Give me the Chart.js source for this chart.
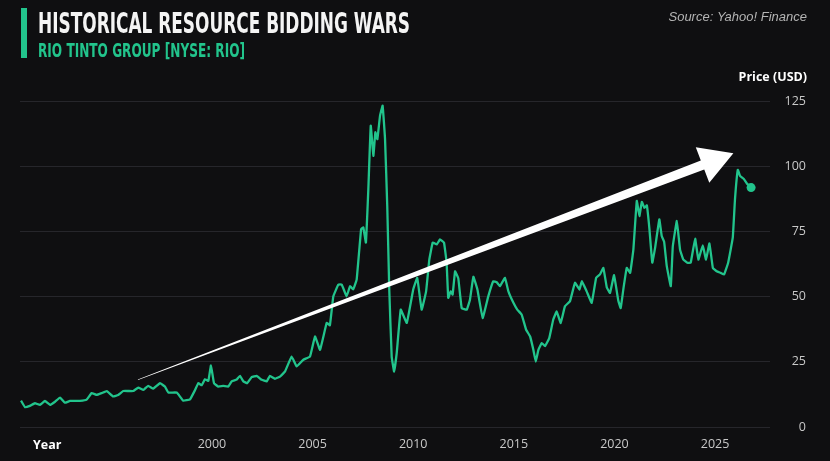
<!DOCTYPE html>
<html>
<head>
<meta charset="utf-8">
<script src="https://cdn.jsdelivr.net/npm/chart.js@4.4.1/dist/chart.umd.min.js"></script>
<style>
  html, body { margin: 0; padding: 0; background: #0f0f11; overflow: hidden; }
  #wrap { width: 830px; height: 461px; position: relative; }
</style>
</head>
<body>
<div id="wrap"><canvas id="rio_chart" width="830" height="461"></canvas></div>
<script>
// RIO monthly-ish closes (decimal year / USD)
var years = [
  1990.51, 1990.71, 1990.95, 1991.20, 1991.45, 1991.70, 1991.95, 1992.20, 1992.45, 1992.69,
  1992.94, 1993.19, 1993.44, 1993.77, 1994.02, 1994.27, 1994.52, 1994.77, 1995.09, 1995.34,
  1995.59, 1995.84, 1996.09, 1996.34, 1996.59, 1996.83, 1997.08, 1997.42, 1997.66, 1997.83,
  1998.25, 1998.57, 1998.91, 1999.16, 1999.32, 1999.49, 1999.65, 1999.82, 1999.95, 2000.10,
  2000.31, 2000.56, 2000.81, 2000.98, 2001.23, 2001.39, 2001.56, 2001.75, 2001.97, 2002.22,
  2002.47, 2002.72, 2002.88, 2003.13, 2003.38, 2003.63, 2003.96, 2004.21, 2004.54, 2004.87,
  2005.12, 2005.37, 2005.70, 2005.86, 2006.03, 2006.28, 2006.45, 2006.69, 2006.86, 2007.02,
  2007.19, 2007.41, 2007.52, 2007.65, 2007.77, 2007.89, 2008.02, 2008.12, 2008.22, 2008.35,
  2008.48, 2008.60, 2008.71, 2008.81, 2008.93, 2009.05, 2009.18, 2009.38, 2009.68, 2010.00,
  2010.20, 2010.42, 2010.64, 2010.80, 2010.97, 2011.17, 2011.33, 2011.53, 2011.66, 2011.74,
  2011.86, 2011.96, 2012.08, 2012.24, 2012.41, 2012.66, 2012.82, 2012.99, 2013.19, 2013.45,
  2013.73, 2013.98, 2014.15, 2014.31, 2014.56, 2014.73, 2014.98, 2015.17, 2015.39, 2015.61,
  2015.81, 2015.97, 2016.09, 2016.22, 2016.39, 2016.55, 2016.76, 2016.96, 2017.13, 2017.33,
  2017.54, 2017.79, 2018.04, 2018.26, 2018.38, 2018.62, 2018.87, 2019.09, 2019.28, 2019.45,
  2019.62, 2019.78, 2019.98, 2020.19, 2020.31, 2020.44, 2020.61, 2020.78, 2020.94, 2021.11,
  2021.24, 2021.36, 2021.49, 2021.61, 2021.74, 2021.88, 2022.02, 2022.23, 2022.35, 2022.47,
  2022.60, 2022.80, 2022.90, 2023.10, 2023.26, 2023.42, 2023.62, 2023.79, 2024.01, 2024.17,
  2024.39, 2024.55, 2024.72, 2024.89, 2025.08, 2025.28, 2025.45, 2025.65, 2025.88, 2025.99,
  2026.13, 2026.24, 2026.44, 2026.57, 2026.79
];
var prices = [
  10.1, 7.6, 8.1, 9.1, 8.5, 10.0, 8.5, 9.7, 11.3, 9.3,
  10.0, 10.0, 10.0, 10.5, 13.0, 12.3, 13.0, 13.8, 11.7, 12.3,
  13.8, 13.8, 13.8, 15.1, 14.2, 15.8, 14.7, 16.8, 15.5, 13.2,
  13.2, 10.1, 10.6, 14.2, 16.8, 16.0, 18.3, 17.7, 23.6, 16.8,
  15.5, 15.8, 15.5, 17.5, 18.2, 19.6, 17.5, 16.8, 19.1, 19.6,
  18.1, 17.5, 19.6, 18.5, 19.3, 21.3, 27.0, 23.2, 25.8, 27.0,
  34.7, 29.6, 39.9, 39.0, 50.1, 54.6, 54.6, 50.1, 54.0, 52.8,
  56.5, 75.8, 76.5, 70.7, 91.2, 115.5, 104.0, 113.0, 110.4, 119.3,
  123.2, 110.4, 84.7, 52.7, 27.0, 21.3, 28.3, 45.0, 39.9, 52.7,
  57.2, 45.0, 52.0, 64.2, 70.7, 70.0, 71.9, 70.7, 63.0, 49.5,
  52.0, 50.8, 59.7, 57.0, 45.6, 45.0, 48.8, 57.6, 52.7, 41.8,
  50.1, 55.9, 55.5, 54.0, 57.2, 52.0, 47.6, 45.0, 43.1, 37.3,
  34.7, 29.6, 25.1, 29.6, 32.2, 31.0, 34.1, 41.2, 44.3, 39.9,
  46.3, 48.2, 55.3, 52.7, 55.9, 52.0, 47.6, 57.2, 58.5, 61.0,
  53.5, 51.4, 58.2, 48.5, 45.6, 52.7, 61.0, 59.1, 68.0, 86.7,
  80.9, 86.3, 84.0, 85.0, 75.8, 63.0, 68.7, 79.6, 73.2, 71.0,
  61.7, 54.0, 69.3, 79.0, 68.0, 64.2, 63.0, 63.0, 72.2, 64.2,
  69.6, 64.2, 70.4, 61.0, 59.7, 59.1, 58.5, 63.0, 72.6, 87.3,
  98.6, 96.3, 95.0, 93.5, 91.8
];
var xTicks = [2000, 2005, 2010, 2015, 2020, 2025];
var yTicks = [0, 25, 50, 75, 100, 125];

// the big "trend" arrow, in data units
var arrowFrom = { year: 1996.32, price: 18.1 };
var arrowTo = { year: 2025.91, price: 105.0 };

var GREEN = '#22c48c';
var BG = '#0f0f11';

var series = years.map(function (y, i) { return { x: y, y: prices[i] }; });
var lastIdx = series.length - 1;

const decorPlugin = {
    id: 'decor',
    beforeDraw: function (chart) {
        var ctx = chart.ctx;
        ctx.save();
        ctx.fillStyle = BG;
        ctx.fillRect(0, 0, chart.width, chart.height);
        ctx.restore();
    },
    afterDatasetsDraw: function (chart) {
        var ctx = chart.ctx;
        var xs = chart.scales.x, ys = chart.scales.y;
        var x0 = xs.getPixelForValue(arrowFrom.year), y0 = ys.getPixelForValue(arrowFrom.price);
        var x1 = xs.getPixelForValue(arrowTo.year), y1 = ys.getPixelForValue(arrowTo.price);
        var dx = x1 - x0, dy = y1 - y0;
        var len = Math.sqrt(dx * dx + dy * dy);
        var ux = dx / len, uy = dy / len;
        var nx = -uy, ny = ux;
        var headLen = 33, headHalf = 19, tailHalf = 0.3, neckHalf = 4.8;
        var bx = x1 - ux * headLen, by = y1 - uy * headLen;

        ctx.save();
        ctx.fillStyle = '#ffffff';
        ctx.beginPath();
        ctx.moveTo(x0 + nx * tailHalf, y0 + ny * tailHalf);
        ctx.lineTo(bx + nx * neckHalf, by + ny * neckHalf);
        ctx.lineTo(bx + nx * headHalf, by + ny * headHalf);
        ctx.lineTo(x1, y1);
        ctx.lineTo(bx - nx * headHalf, by - ny * headHalf);
        ctx.lineTo(bx - nx * neckHalf, by - ny * neckHalf);
        ctx.lineTo(x0 - nx * tailHalf, y0 - ny * tailHalf);
        ctx.closePath();
        ctx.fill();
        ctx.restore();
    },
    afterDraw: function (chart) {
        var ctx = chart.ctx;
        ctx.save();

        // accent bar
        ctx.fillStyle = GREEN;
        ctx.fillRect(21, 8, 6, 50);

        // title, squeezed to width like the condensed original
        ctx.textBaseline = 'alphabetic';
        ctx.textAlign = 'left';
        ctx.fillStyle = '#f4f4f4';
        ctx.font = "bold 28px 'Liberation Sans Narrow', 'DejaVu Sans Condensed', sans-serif";
        var t = 'HISTORICAL RESOURCE BIDDING WARS';
        var w = ctx.measureText(t).width;
        ctx.save();
        ctx.translate(38, 32.5);
        ctx.scale(372 / w, 1);
        ctx.fillText(t, 0, 0);
        ctx.restore();

        ctx.fillStyle = GREEN;
        ctx.font = "bold 19.5px 'Liberation Sans Narrow', 'DejaVu Sans Condensed', sans-serif";
        var s = 'RIO TINTO GROUP [NYSE: RIO]';
        var sw = ctx.measureText(s).width;
        ctx.save();
        ctx.translate(38, 56.5);
        ctx.scale(207 / sw, 1);
        ctx.fillText(s, 0, 0);
        ctx.restore();

        // source
        ctx.textAlign = 'right';
        ctx.fillStyle = '#b4b4b4';
        ctx.font = "italic 13px 'Liberation Sans', Arial, sans-serif";
        ctx.fillText('Source: Yahoo! Finance', 807, 21);

        // axis titles
        ctx.fillStyle = '#ffffff';
        ctx.font = "bold 12.5px 'Open Sans', sans-serif";
        ctx.fillText('Price (USD)', 807, 81);
        ctx.textAlign = 'left';
        ctx.textBaseline = 'middle';
        ctx.fillText('Year', 33, 445);

        ctx.restore();
    }
};

new Chart(document.getElementById('rio_chart'), {
    type: 'line',
    data: {
        datasets: [{
            data: series,
            borderColor: GREEN,
            backgroundColor: GREEN,
            borderWidth: 2.3,
            tension: 0.08,
            borderJoinStyle: 'round',
            pointRadius: function (c) { return c.dataIndex === lastIdx ? 4.5 : 0; },
            pointHoverRadius: 0,
            pointBorderWidth: 0,
            clip: false
        }]
    },
    options: {
        responsive: false,
        animation: false,
        devicePixelRatio: 1,
        layout: { padding: { top: 101, left: 20, right: 24, bottom: 0 } },
        plugins: {
            legend: { display: false },
            tooltip: { enabled: false }
        },
        scales: {
            x: {
                type: 'linear',
                min: 1990.46,
                max: 2027.73,
                afterBuildTicks: function (scale) {
                    scale.ticks = xTicks.map(function (v) { return { value: v }; });
                },
                afterFit: function (scale) { scale.height = 34; },
                grid: { display: false, drawTicks: false },
                border: { display: false },
                ticks: {
                    color: '#c9c9c9',
                    font: { family: "'Open Sans', sans-serif", size: 12.5 },
                    padding: 10,
                    maxRotation: 0,
                    autoSkip: false,
                    callback: function (v) { return String(v); }
                }
            },
            y: {
                position: 'right',
                min: 0,
                max: 125,
                afterBuildTicks: function (scale) {
                    scale.ticks = yTicks.map(function (v) { return { value: v }; });
                },
                afterFit: function (scale) { scale.width = 36; },
                grid: { color: '#26262b', lineWidth: 1, drawTicks: false },
                border: { display: false },
                ticks: {
                    color: '#c9c9c9',
                    font: { family: "'Open Sans', sans-serif", size: 12.5 },
                    padding: 15,
                    crossAlign: 'far'
                }
            }
        }
    },
    plugins: [decorPlugin]
});
</script>
</body>
</html>
